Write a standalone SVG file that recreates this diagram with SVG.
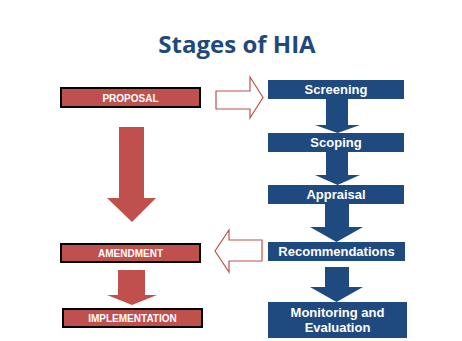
<svg xmlns="http://www.w3.org/2000/svg" width="462" height="341" viewBox="0 0 462 341">
<style>
.red{fill:#C0504D;stroke:#000;stroke-width:2}
.blue{fill:#1F4A80}
.ra{fill:#C0504D}
.ba{fill:#1F4A80}
.hollow{fill:#fff;stroke:#C0504D;stroke-width:1.2}
.rt{font-family:"Liberation Sans",Arial,sans-serif;font-weight:bold;font-size:10px;fill:#fff;text-anchor:middle}
.bt{font-family:"Liberation Sans",Arial,sans-serif;font-weight:bold;font-size:13px;fill:#fff;text-anchor:middle}
.title{font-family:"Open Sans",sans-serif;font-weight:bold;font-size:24px;fill:#1F497D;text-anchor:middle}
</style>
<rect width="462" height="341" fill="#fff"/>
<text class="title" x="237" y="53">Stages of HIA</text>
<g id="connectors">
<polygon class="hollow" points="216,91 250,91 250,77 263,97.5 250,118 250,109 216,109"/>
<polygon class="hollow" points="262,240 229,240 229,230 215,251 229,272 229,261 262,261"/>
<polygon class="ra" points="119,127 144,127 144,198 156,198 132,222 107,198 119,198"/>
<polygon class="ra" points="118,270 145,270 145,295 157,295 132,305 107,295 118,295"/>
<polygon class="ba" points="326,99 348,99 348,125 360,125 337.5,133 315,125 326,125"/>
<polygon class="ba" points="326,152 348,152 348,175 360,175 337.5,185 315,175 326,175"/>
<polygon class="ba" points="325,204 349,204 349,227 363,227 336.5,242 310,227 325,227"/>
<polygon class="ba" points="325,267 349,267 349,287 363,287 336.5,302 310,287 325,287"/>
</g>
<g id="proposal"><rect class="red" x="61" y="88" width="139" height="19"/><text class="rt" x="130.5" y="101.5">PROPOSAL</text></g>
<g id="amendment"><rect class="red" x="61" y="244" width="139" height="18"/><text class="rt" x="130.5" y="257">AMENDMENT</text></g>
<g id="implementation"><rect class="red" x="63" y="309" width="139" height="18"/><text class="rt" x="132.5" y="322">IMPLEMENTATION</text></g>
<g id="screening"><rect class="blue" x="268" y="80" width="136" height="19"/><text class="bt" x="336" y="94">Screening</text></g>
<g id="scoping"><rect class="blue" x="268" y="133" width="136" height="19"/><text class="bt" x="336" y="147">Scoping</text></g>
<g id="appraisal"><rect class="blue" x="268" y="185" width="136" height="19"/><text class="bt" x="336" y="199">Appraisal</text></g>
<g id="recommendations"><rect class="blue" x="268" y="242" width="137" height="19"/><text class="bt" x="336.5" y="256">Recommendations</text></g>
<g id="monitoring"><rect class="blue" x="268" y="302" width="139" height="36"/><text class="bt" x="337.5" y="317">Monitoring and</text><text class="bt" x="337.5" y="332">Evaluation</text></g>
</svg>
